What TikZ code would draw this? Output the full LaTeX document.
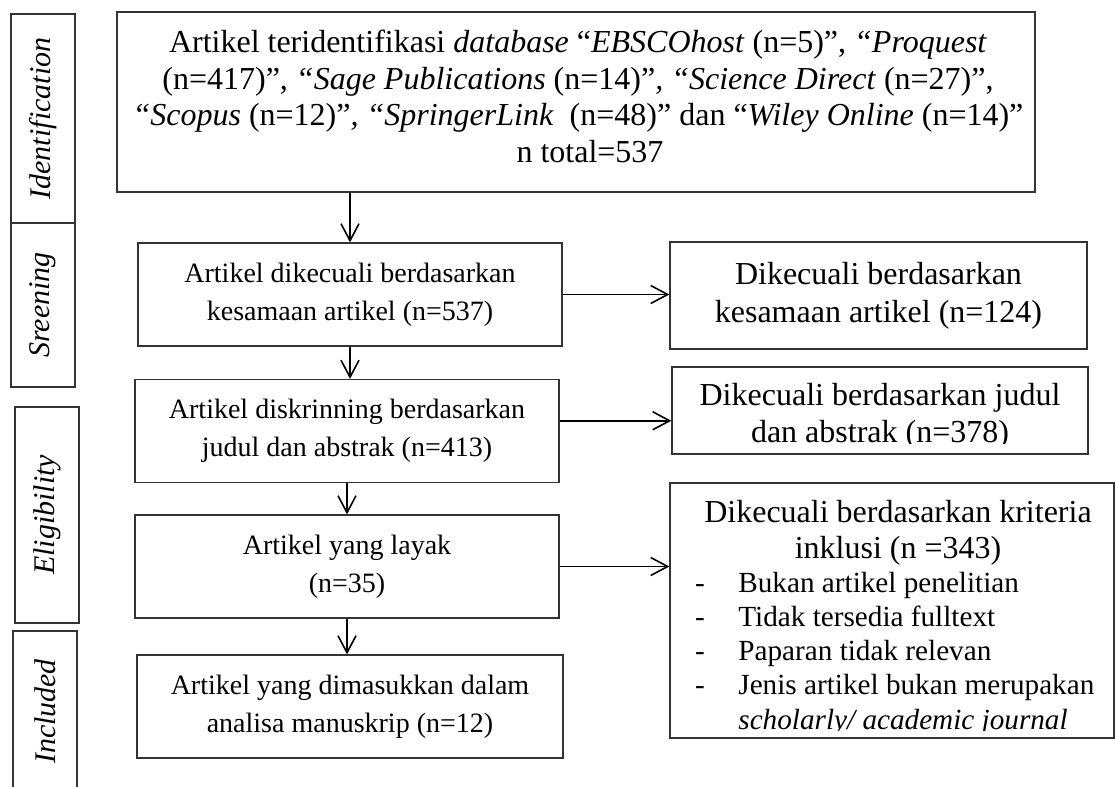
\documentclass[tikz,border=0pt]{standalone}
\usepackage{fontspec}
\setmainfont{Liberation Serif}
\usetikzlibrary{positioning,arrows.meta,calc}

\begin{document}
\begin{tikzpicture}[x=0.5pt,y=-0.5pt,
 box/.style={draw=black!80,line width=.6pt,inner sep=0pt},
 lbox/.style={box,minimum width=212pt,minimum height=51.5pt,align=center,font=\fontsize{14}{19}\selectfont},
 rtxt/.style={inner sep=0pt,font=\fontsize{16}{19}\selectfont},
 itxt/.style={inner sep=0pt,font=\fontsize{14.6}{18}\selectfont},
 side/.style={box,rotate=90,minimum height=32pt,font=\fontsize{15}{18}\selectfont\itshape},
 arr/.style={-{Straight Barb[length=8.5pt,width=9pt]},line width=.8pt}]
\useasboundingbox (0,0) rectangle (1115,787);
% Phase labels on the left
\node[side,minimum width=104.5pt] (lid) at (43,118.5) {Identification};
\node[side,minimum width=82pt] (lscr) at (43,305) {Sreening};
\node[side,minimum width=108pt] (lelig) at (47,515) {Eligibility};
\node[side,minimum width=80.5pt] (linc) at (45,711.5) {Included};
% Identification
\node[box,minimum width=459pt,minimum height=90pt] (ident) at (576,102) {};
\node[inner sep=0pt,anchor=north,align=center,font=\fontsize{16}{18.2}\selectfont] (identtxt) at (578,30)
 {Artikel teridentifikasi \textit{database} “\textit{EBSCOhost} (n=5)”, \textit{“Proquest}\\
  (n=417)”, \textit{“Sage Publications} (n=14)”\textit{,} \textit{“Science Direct} (n=27)”,\\
  \textit{“Scopus} (n=12)”\textit{,} \textit{“SpringerLink}~ (n=48)” dan “\textit{Wiley Online} (n=14)”\\
  \hspace*{12pt}n total=537};
% Main column
\node[lbox] (sim) at (350,294.5) {Artikel dikecuali berdasarkan\\kesamaan artikel (n=537)};
\node[lbox] (judul) at (347,431) {Artikel diskrinning berdasarkan\\judul dan abstrak (n=413)};
\node[lbox] (layak) at (347,566.5) {Artikel yang layak\\(n=35)};
\node[lbox,minimum width=213pt] (incl) at (350,706.5) {Artikel yang dimasukkan dalam\\analisa manuskrip (n=12)};
% Excluded column
\node[box,minimum width=208.5pt,minimum height=53.5pt,align=center,font=\fontsize{16}{19}\selectfont]
 (exsim) at (878.5,295.5) {Dikecuali berdasarkan\\kesamaan artikel (n=124)};
\node[box,minimum width=208pt,minimum height=43.5pt] (exjudul) at (880,410.5) {};
\begin{scope}
 \clip (exjudul.north west) rectangle ($(exjudul.south east)+(0,-11)$);
 \node[rtxt,anchor=base] (exj1) at (880,405) {Dikecuali berdasarkan judul};
 \node[rtxt,anchor=base] (exj2) at (880,442) {dan abstrak (n=378)};
\end{scope}
\node[box,minimum width=222pt,minimum height=127.5pt] (exkrit) at (892,610.5) {};
\begin{scope}
 \clip (exkrit.north west) rectangle ($(exkrit.south east)+(0,-8)$);
 \node[rtxt,anchor=base] (exk1) at (898,522) {Dikecuali berdasarkan kriteria};
 \node[rtxt,anchor=base] (exk2) at (898,558) {inklusi (n =343)};
 \foreach \t [count=\i] in {Bukan artikel penelitian,Tidak tersedia fulltext,
   Paparan tidak relevan,Jenis artikel bukan merupakan}{
  \node[itxt,anchor=base] (dash\i) at (700,558+34*\i) {-};
  \node[itxt,anchor=base west] (item\i) at (738,558+34*\i) {\t};
 }
 \node[itxt,anchor=base west] (item5) at (738,729) {\textit{scholarly/ academic journal}};
\end{scope}
% Connectors
\draw[arr] (sim.north |- ident.south) -- (sim.north);
\draw[arr] (sim.south) -- (sim.south |- judul.north);
\draw[arr] (judul.south) -- (judul.south |- layak.north);
\draw[arr] (layak.south) -- (layak.south |- incl.north);
\draw[arr] (sim.east) -- (sim.east -| exsim.west);
\coordinate (mj) at ($(judul.east)!.5!(exjudul.west)$);
\draw[arr] (mj -| judul.east) -- (mj -| exjudul.west);
\draw[arr] (layak.east) -- (layak.east -| exkrit.west);
\end{tikzpicture}
\end{document}
